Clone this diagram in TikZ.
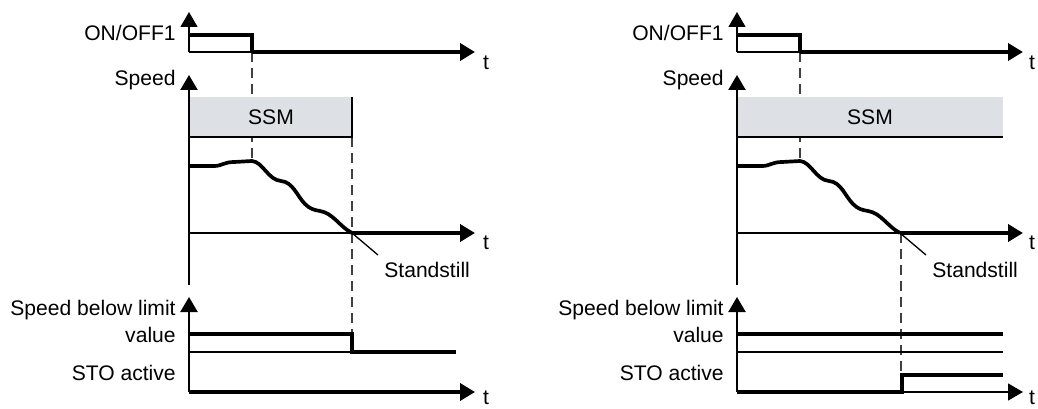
\documentclass[tikz,border=0pt]{standalone}
\usepackage{fontspec}
\setmainfont{Liberation Sans}
\usetikzlibrary{arrows.meta}
\definecolor{ssmgray}{RGB}{221, 225, 230}

\begin{document}
\begin{tikzpicture}[x=0.02cm, y=-0.02cm, font=\fontsize{12}{14}\selectfont,
  thinline/.style={line width=0.75pt},
  axisline/.style={line width=1.3pt},
  sigline/.style={line width=2.1pt},
  guide/.style={line width=0.7pt, black!75, dash pattern=on 5.7pt off 3.4pt},
  axisarrow/.style={-{Triangle[length=0.3cm, width=0.34cm]}},
  lbl/.style={inner sep=0pt, anchor=east},
  txt/.style={inner sep=0pt}]

\useasboundingbox (0,0) rectangle (1038,409);

% ============================================================
%  LEFT  --  STO once the speed is below the limit
% ============================================================

% guides (drawn first, the SSM box covers them)
\draw[guide] (252,52) -- (252,161);
\draw[guide] (352,137) -- (352,334);

% ---- ON/OFF1 ----
\node[lbl] (onoffL) at (176,33) {ON/OFF1};
\draw[thinline, axisarrow] (189,52) -- (189,12);
\draw[thinline] (189,52) -- (252,52);
\draw[sigline] (189,35) -- (252,35) -- (252,52);
\draw[sigline, axisarrow] (252,52) -- (475,52);
\node[txt] (tL1) at (486,63) {t};

% ---- Speed + SSM window ----
\node[lbl] (speedL) at (176,80) {Speed};
\fill[ssmgray] (189,97) rectangle (352,137);
\draw[thinline] (189,137) -- (352,137) -- (352,97);
\node[txt] (ssmL) at (271,117) {SSM};
\draw[axisline, axisarrow] (189,285) -- (189,75);
\draw[thinline] (189,233) -- (352,233);
\draw[sigline, axisarrow] (352,233) -- (475,233);
\node[txt] (tL2) at (486,243) {t};
\draw[sigline] (189,166) -- (214,166)
  .. controls (222,166) and (224,162) .. (234,162) -- (252,161)
  .. controls (263,162) and (268,180) .. (281,181)
  .. controls (293,182) and (297,196) .. (305,204)
  .. controls (310,209) and (314,210) .. (320,211)
  .. controls (333,213) and (340,227) .. (352,233);

% Standstill marker
\coordinate (stopL) at (352,233);
\coordinate (leadL) at (378,255);
\node[txt, anchor=west] (standL) at (384,270) {Standstill};
\draw[thinline] (stopL) -- (leadL);

% ---- Speed below limit / STO ----
\node[lbl] (sblL) at (176,310) {Speed below limit};
\node[lbl] (valL) at (176,335) {value};
\node[lbl] (stoL) at (176,373) {STO active};
\draw[axisline, axisarrow] (189,392) -- (189,297);
\draw[thinline] (189,352) -- (352,352);
\draw[sigline] (189,334) -- (352,334) -- (352,352) -- (456,352);
\draw[sigline, axisarrow] (189,392) -- (475,392);
\node[txt] (tL3) at (486,398) {t};

% ============================================================
%  RIGHT  --  SSM stays active, STO follows standstill
% ============================================================
\begin{scope}[shift={(548,0)}]

% guides
\draw[guide] (252,52) -- (252,161);
\draw[guide] (353,233) -- (353,375);

% ---- ON/OFF1 ----
\node[lbl] (onoffR) at (176,33) {ON/OFF1};
\draw[thinline, axisarrow] (189,52) -- (189,12);
\draw[thinline] (189,52) -- (252,52);
\draw[sigline] (189,35) -- (252,35) -- (252,52);
\draw[sigline, axisarrow] (252,52) -- (475,52);
\node[txt] (tR1) at (484,63) {t};

% ---- Speed + SSM window (open to the right) ----
\node[lbl] (speedR) at (176,80) {Speed};
\fill[ssmgray] (189,97) rectangle (455,137);
\draw[thinline] (189,137) -- (455,137);
\node[txt] (ssmR) at (322,117) {SSM};
\draw[axisline, axisarrow] (189,285) -- (189,75);
\draw[thinline] (189,233) -- (352,233);
\draw[sigline, axisarrow] (352,233) -- (475,233);
\node[txt] (tR2) at (484,243) {t};
\draw[sigline] (189,166) -- (214,166)
  .. controls (222,166) and (224,162) .. (234,162) -- (252,161)
  .. controls (263,162) and (268,180) .. (281,181)
  .. controls (293,182) and (297,196) .. (305,204)
  .. controls (310,209) and (314,210) .. (320,211)
  .. controls (333,213) and (340,227) .. (352,233);

% Standstill marker
\coordinate (stopR) at (352,233);
\coordinate (leadR) at (378,255);
\node[txt, anchor=west] (standR) at (384,270) {Standstill};
\draw[thinline] (stopR) -- (leadR);

% ---- Speed below limit / STO ----
\node[lbl] (sblR) at (176,310) {Speed below limit};
\node[lbl] (valR) at (176,335) {value};
\node[lbl] (stoR) at (176,373) {STO active};
\draw[axisline, axisarrow] (189,392) -- (189,297);
\draw[thinline] (189,352) -- (455,352);
\draw[sigline] (189,334) -- (455,334);
\draw[thinline, axisarrow] (354,392) -- (475,392);
\draw[sigline] (189,392) -- (354,392) -- (354,375) -- (455,375);
\node[txt] (tR3) at (484,398) {t};

\end{scope}

\end{tikzpicture}
\end{document}
